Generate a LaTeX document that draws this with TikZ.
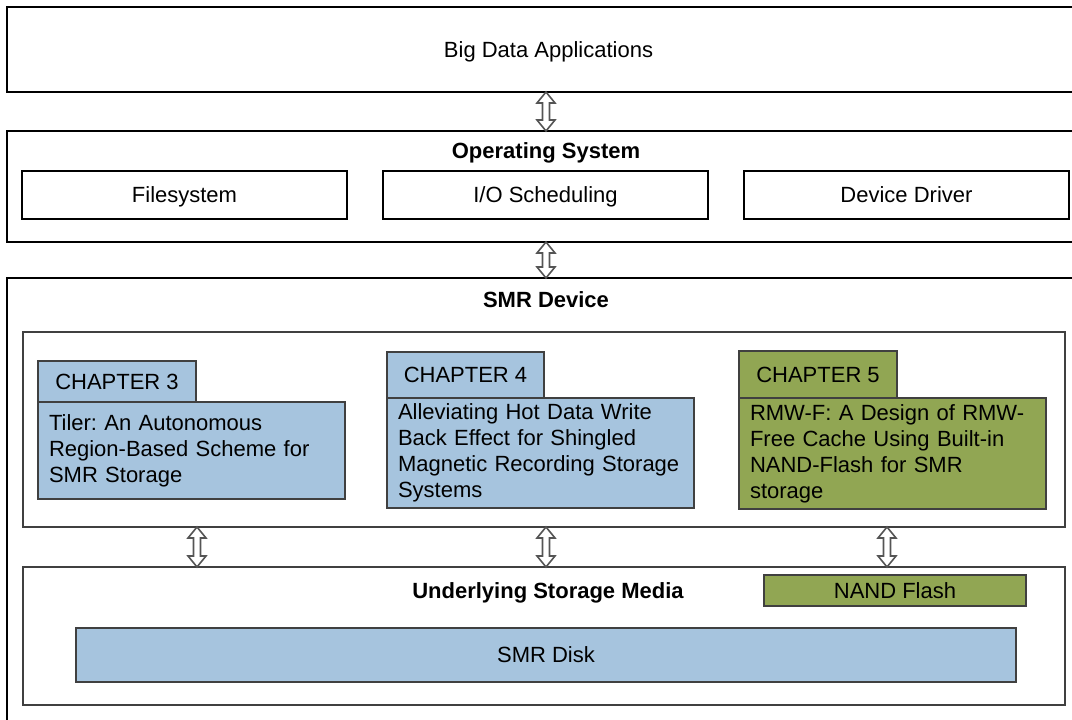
\documentclass[tikz,border=0pt]{standalone}
\usepackage{fontspec}
\setmainfont{Liberation Sans}
\usetikzlibrary{calc}
\definecolor{chblue}{HTML}{A6C4DE}
\definecolor{chgreen}{HTML}{91A653}
\definecolor{edgegrey}{HTML}{404040}
\definecolor{arrgrey}{HTML}{555555}
\newcommand{\udarrow}[3]{%
  \draw[udarr] let \p1=(#2.south -| #1), \p2=(#3.north -| #1) in
  (\x1,\y1) -- (\x1+9pt,\y1-11pt) -- (\x1+3.5pt,\y1-11pt) -- (\x1+3.5pt,\y2+11pt)
  -- (\x1+9pt,\y2+11pt) -- (\x1,\y2) -- (\x1-9pt,\y2+11pt) -- (\x1-3.5pt,\y2+11pt)
  -- (\x1-3.5pt,\y1-11pt) -- (\x1-9pt,\y1-11pt) -- cycle;}
\tikzset{
  basebox/.style={font=\fontsize{22}{26}\selectfont\frenchspacing, inner sep=0pt, outer sep=0pt},
  oneline/.style={text height=15.8pt, text depth=0pt},
  outerbox/.style={basebox, oneline, draw=black, line width=2pt, anchor=north west},
  osbox/.style={basebox, oneline, draw=black, line width=1.8pt, anchor=north west, minimum width=325, minimum height=48},
  innerbox/.style={basebox, draw=edgegrey, line width=2pt, anchor=north west},
  titletext/.style={basebox, oneline, font=\fontsize{22}{26}\selectfont\bfseries},
  chtab/.style={basebox, oneline, draw=edgegrey, line width=1.8pt, anchor=north west},
  chbody/.style={basebox, draw=edgegrey, line width=1.8pt, anchor=north west, align=left, inner xsep=11pt, text width=285},
  udarr/.style={draw=arrgrey, fill=white, line width=1.6pt, line join=miter},
}
\begin{document}
\begin{tikzpicture}[x=1pt,y=-1pt]
\clip (0,0) rectangle (1072,720);
\fill[white] (0,0) rectangle (1072,720);
% top layer
\node[outerbox, minimum width=1083, minimum height=85] (apps) at (7,7) {Big Data Applications};
% OS
\node[outerbox, minimum width=1083, minimum height=111] (os) at (7,131) {};
\node[titletext] (ostitle) at (546,151) {Operating System};
\node[osbox] (fs) at (22,171) {Filesystem};
\node[osbox] (ios) at (383,171) {I/O Scheduling};
\node[osbox] (dd) at (744,171) {Device Driver};
% SMR device
\node[outerbox, minimum width=1083, minimum height=462] (smr) at (7,278) {};
\node[titletext] (smrtitle) at (546,300) {SMR Device};
\node[innerbox, minimum width=1042, minimum height=195] (layer) at (23,332) {};
% chapter 3
\node[chbody, fill=chblue, minimum width=306, minimum height=97] (b3) at (38,402) {Tiler: An Autonomous\\Region-Based Scheme for\\SMR Storage};
\node[chtab, fill=chblue, minimum width=158, minimum height=41] (t3) at (38,361) {CHAPTER 3};
% chapter 4
\node[chbody, fill=chblue, minimum width=306, minimum height=110] (b4) at (387,398) {Alleviating Hot Data Write\\Back Effect for Shingled\\Magnetic Recording Storage\\Systems};
\node[chtab, fill=chblue, minimum width=157, minimum height=46] (t4) at (387,352) {CHAPTER 4};
% chapter 5
\node[chbody, fill=chgreen, minimum width=307, minimum height=111] (b5) at (739,398) {RMW-F: A Design of RMW-\\Free Cache Using Built-in\\NAND-Flash for SMR\\storage};
\node[chtab, fill=chgreen, minimum width=158, minimum height=47] (t5) at (739,351) {CHAPTER 5};
% storage media
\node[innerbox, minimum width=1042, minimum height=138] (media) at (23,567) {};
\node[titletext] (mediatitle) at (548,591) {Underlying Storage Media};
\node[chtab, fill=chgreen, minimum width=262, minimum height=31] (nand) at (764,575) {NAND Flash};
\node[chtab, fill=chblue, minimum width=940, minimum height=54] (disk) at (76,628) {SMR Disk};
% arrows
\coordinate (ax0) at (546,0);
\coordinate (ax1) at (197,0);
\coordinate (ax3) at (887,0);
\udarrow{ax0}{apps}{os}
\udarrow{ax0}{os}{smr}
\udarrow{ax1}{layer}{media}
\udarrow{ax0}{layer}{media}
\udarrow{ax3}{layer}{media}
\end{tikzpicture}
\end{document}
